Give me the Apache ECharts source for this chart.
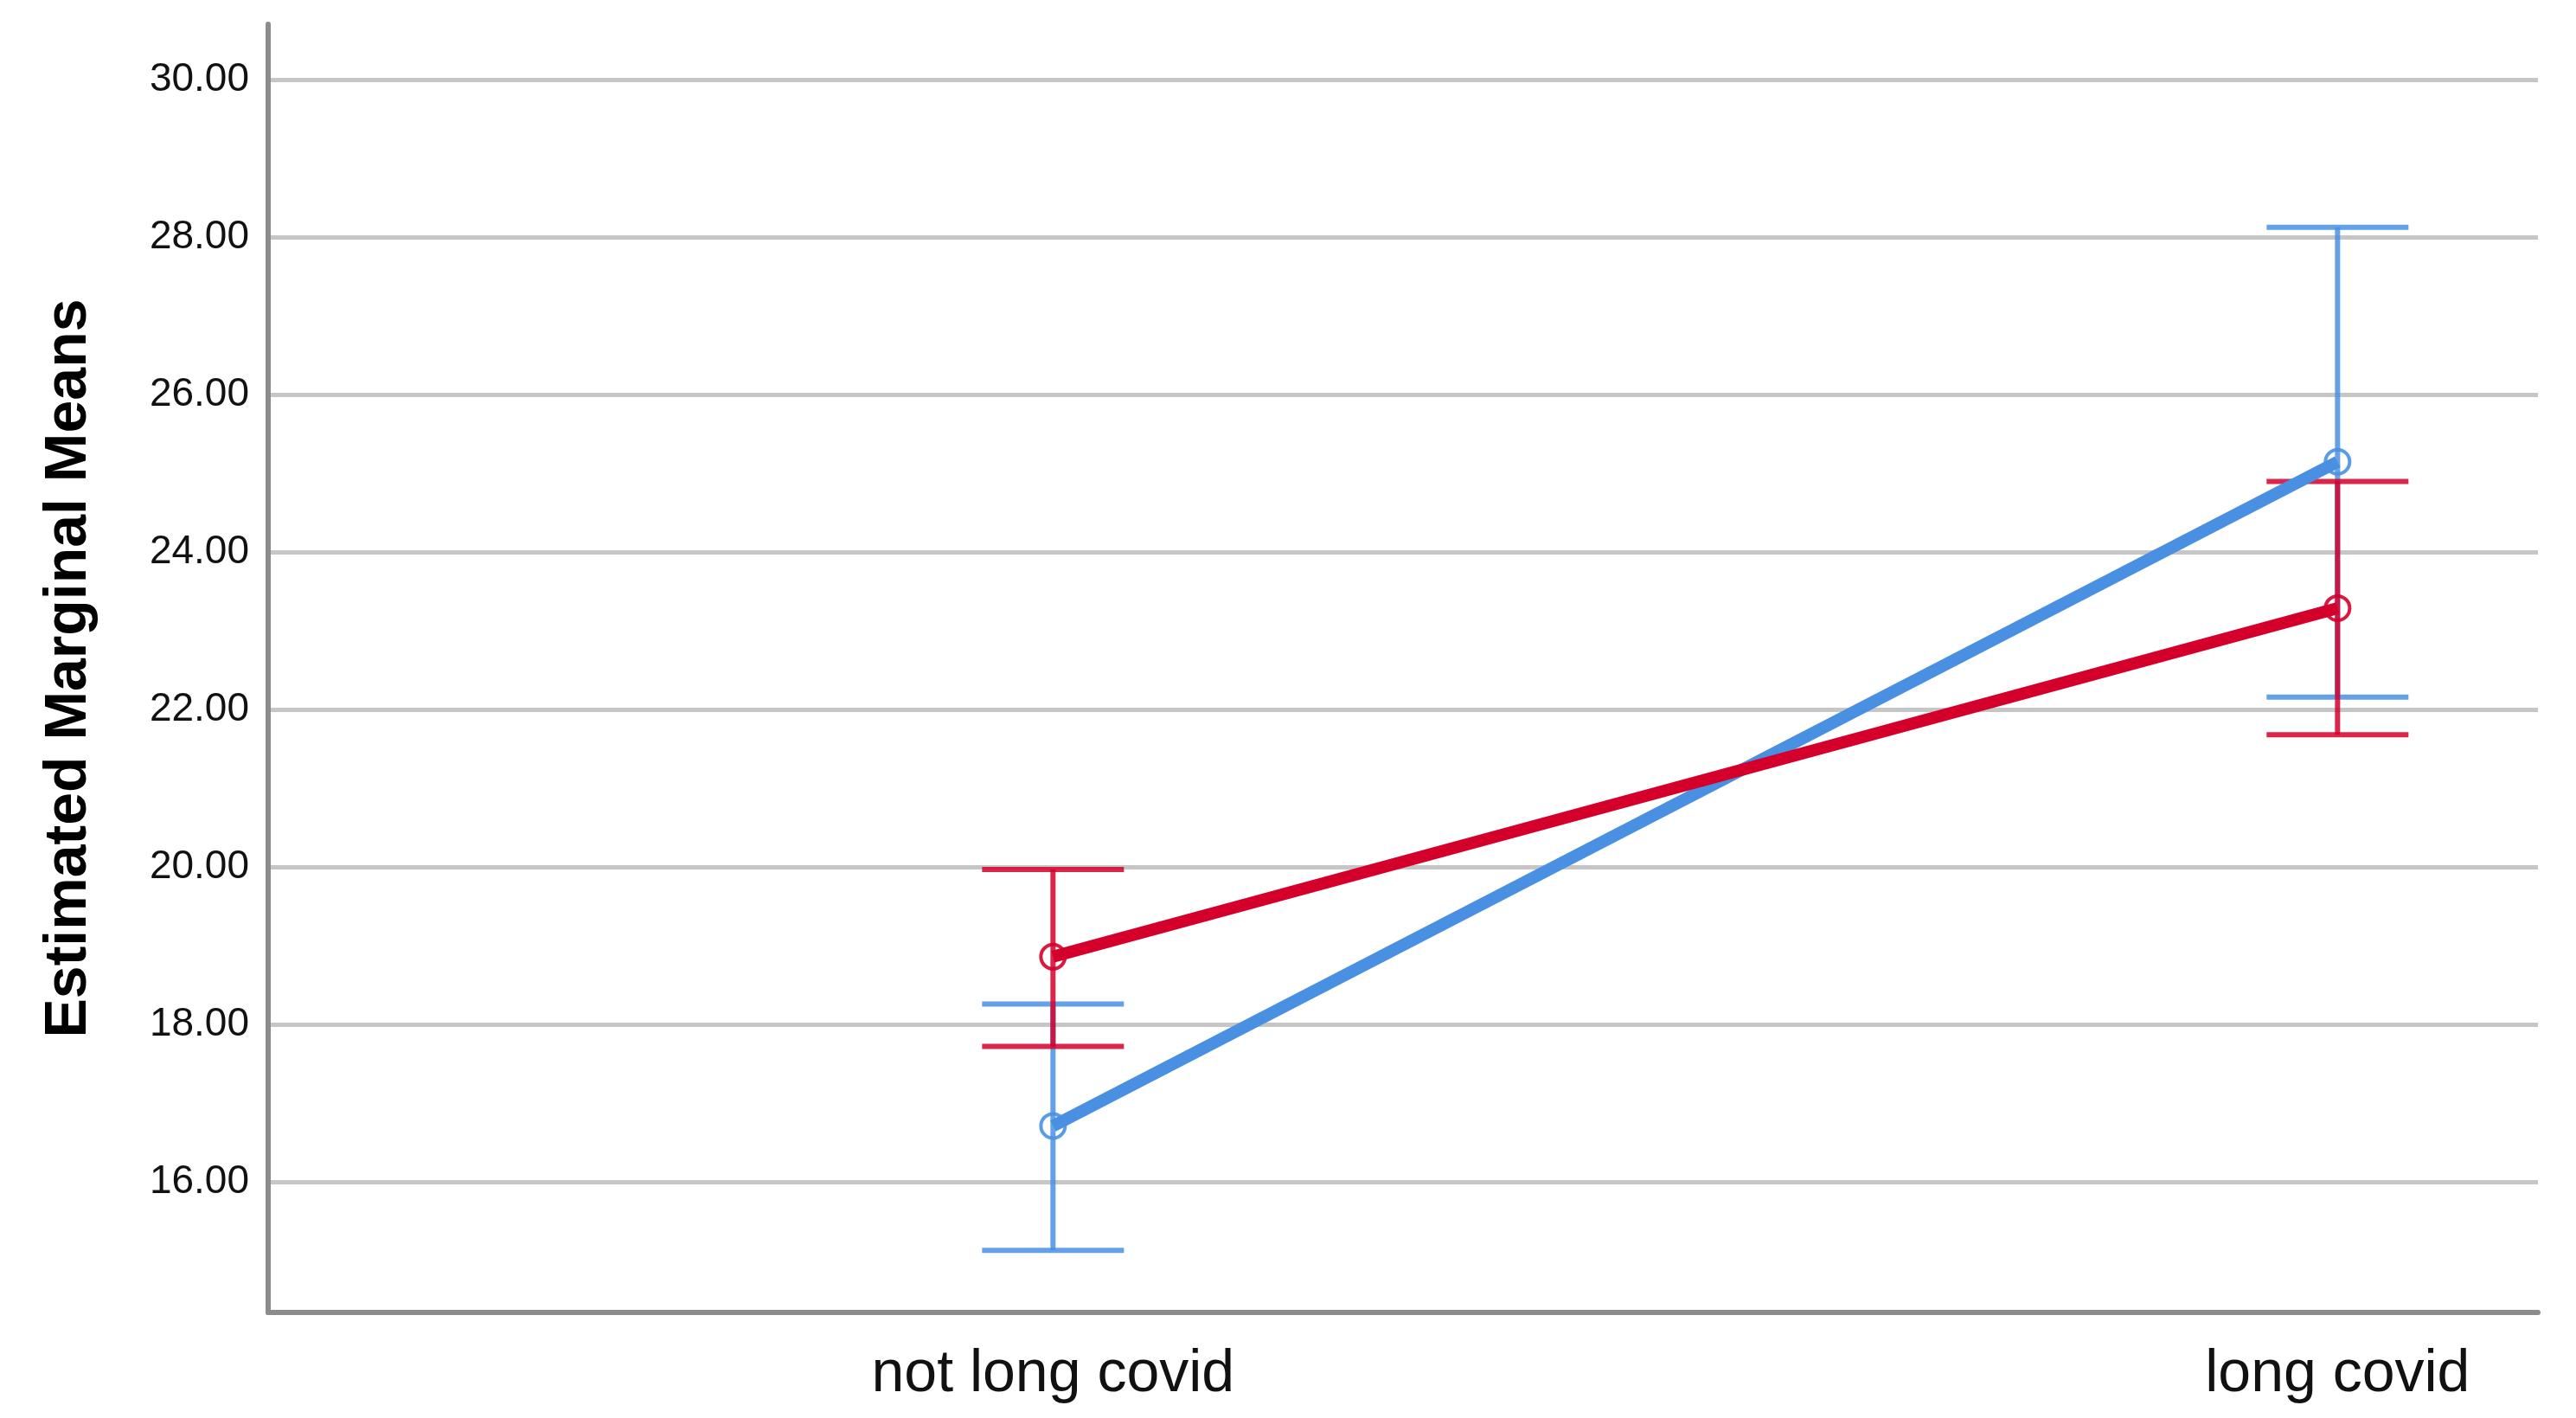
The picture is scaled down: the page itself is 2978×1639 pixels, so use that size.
<!DOCTYPE html>
<html>
<head>
<meta charset="utf-8">
<title>Estimated Marginal Means</title>
<script src="https://cdn.jsdelivr.net/npm/echarts@6/dist/echarts.min.js"></script>
<style>
  html, body { margin: 0; padding: 0; background: #fff; }
  #chart { width: 2978px; height: 1639px; }
</style>
</head>
<body>
<div id="chart"></div>
<script>
// categories on the x axis (placed at x = 1, 2)
const categories = ['not long covid', 'long covid'];
const catPos = [1, 2];

// y tick labels
const yTicks = [16, 18, 20, 22, 24, 26, 28, 30];

// red group: mean and CI
const redMean = [18.86, 23.29];
const redLow = [17.72, 21.68];
const redHigh = [19.97, 24.90];

// blue group: mean and CI
const blueMean = [16.71, 25.15];
const blueLow = [15.13, 22.16];
const blueHigh = [18.26, 28.13];

const RED = '#d4002b';
const BLUE = '#4a90e2';

const chartDom = document.getElementById('chart');
const chartIns = echarts.init(chartDom, null, {renderer: 'canvas'});

// error bar with caps
const errBar = (color, low, high, z) => ({
  type: 'custom',
  z,
  silent: true,
  data: catPos.map((x, i) => [x, low[i], high[i]]),
  renderItem: (params, api) => {
    const top = api.coord([api.value(0), api.value(2)]);
    const bot = api.coord([api.value(0), api.value(1)]);
    const hw = 82;
    const style = {stroke: color, lineWidth: 6, opacity: 0.85};
    return {
      type: 'group',
      children: [
        {type: 'line', shape: {x1: top[0], y1: top[1], x2: bot[0], y2: bot[1]}, style},
        {type: 'line', shape: {x1: top[0] - hw, y1: top[1], x2: top[0] + hw, y2: top[1]}, style},
        {type: 'line', shape: {x1: bot[0] - hw, y1: bot[1], x2: bot[0] + hw, y2: bot[1]}, style},
      ],
    };
  },
});

const meanLine = (color, vals, z) => ({
  type: 'line',
  z,
  silent: true,
  data: catPos.map((x, i) => [x, vals[i]]),
  symbol: 'circle',
  symbolSize: 28,
  lineStyle: {color, width: 14},
  itemStyle: {color: 'rgba(255,255,255,0)', borderColor: color, borderWidth: 4, opacity: 0.9},
});

const options = {
  animation: false,
  backgroundColor: '#fff',
  grid: {left: 310, top: 28, right: 44, bottom: 122},
  xAxis: {
    type: 'value',
    min: 0.389,
    max: 2.156,
    splitLine: {show: false},
    axisTick: {show: false},
    axisLine: {show: true, onZero: false, lineStyle: {color: '#8c8c8c', width: 6}},
    axisLabel: {
      customValues: catPos,
      formatter: (v) => categories[catPos.indexOf(Math.round(v))] || '',
      color: '#111',
      fontFamily: 'Liberation Sans',
      fontSize: 68,
      margin: 38,
    },
  },
  yAxis: {
    type: 'value',
    min: 14.34,
    max: 30.71,
    name: 'Estimated Marginal Means',
    nameLocation: 'middle',
    nameGap: 196,
    nameTextStyle: {
      color: '#000',
      fontFamily: 'Liberation Sans',
      fontWeight: 'bold',
      fontSize: 68,
    },
    axisLine: {show: true, onZero: false, lineStyle: {color: '#8c8c8c', width: 6}},
    axisTick: {show: false, customValues: yTicks},
    splitLine: {show: true, lineStyle: {color: '#c6c6c6', width: 5}},
    axisLabel: {
      customValues: yTicks,
      formatter: (v) => v.toFixed(2),
      color: '#111',
      fontFamily: 'Liberation Sans',
      fontSize: 46,
      margin: 22,
    },
  },
  series: [
    errBar(BLUE, blueLow, blueHigh, 2),
    errBar(RED, redLow, redHigh, 3),
    meanLine(BLUE, blueMean, 4),
    meanLine(RED, redMean, 5),
  ],
};

chartIns.setOption(options);
window.addEventListener('resize', chartIns.resize);
</script>
</body>
</html>
